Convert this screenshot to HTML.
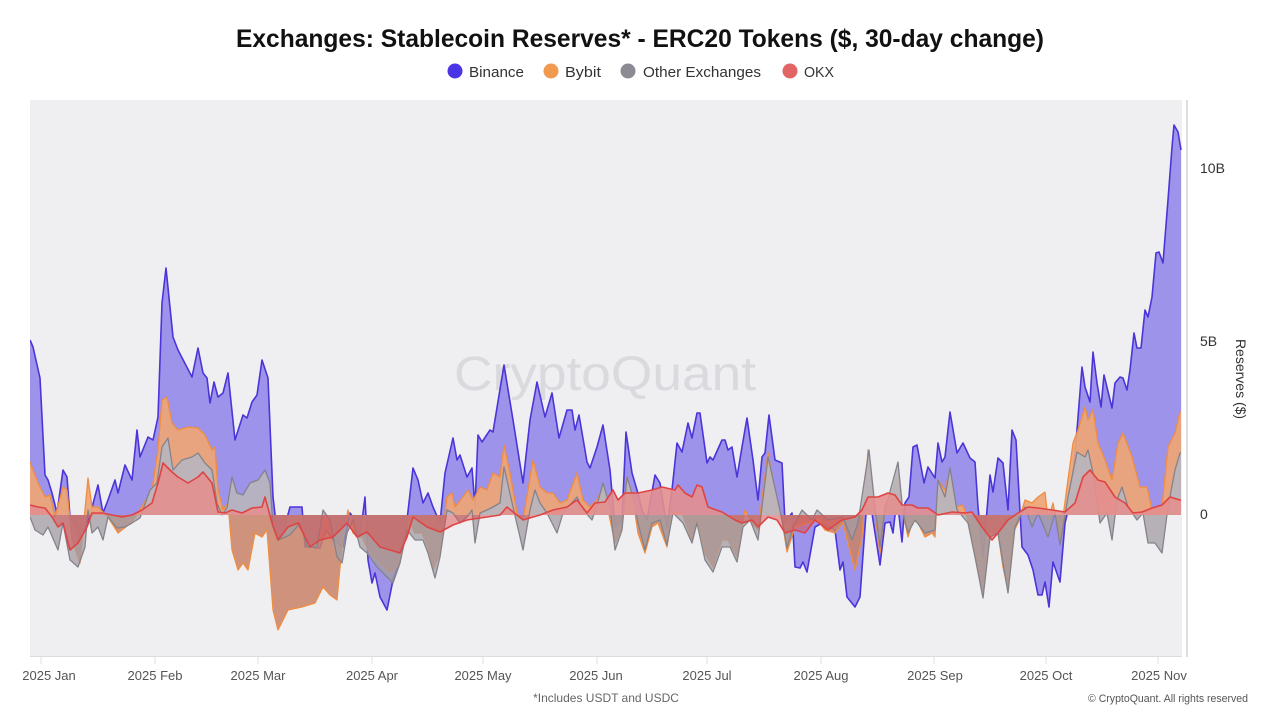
<!DOCTYPE html>
<html>
<head>
<meta charset="utf-8">
<style>
html,body{margin:0;padding:0;background:#fff;}
svg{display:block;}
text{font-family:"Liberation Sans",Arial,sans-serif;}
</style>
</head>
<body>
<svg width="1280" height="720" viewBox="0 0 1280 720" xmlns="http://www.w3.org/2000/svg">
<defs>
<clipPath id="pos"><rect x="0" y="0" width="1280" height="515"/></clipPath>
<clipPath id="neg"><rect x="0" y="515" width="1280" height="205"/></clipPath>
<clipPath id="plot"><rect x="30" y="100" width="1152" height="556"/></clipPath>
<polygon id="bnF" points="30,515 30,340 33,347 40,378 45,475 48,480 52,493 57,513 63,470 67,477 70,517 75,525 80,540 85,530 90,515 98,485 103,513 108,500 115,480 118,493 125,465 132,480 137,430 140,457 148,437 153,440 158,417 162,303 166,268 173,337 178,350 192,377 198,348 203,373 207,378 210,403 214,382 218,397 223,393 228,373 235,440 243,415 247,418 252,402 257,395 262,360 268,378 273,497 278,540 283,533 290,507 297,507 302,507 305,547 310,545 315,548 320,548 326,530 333,540 343,547 350,513 355,520 360,537 365,497 368,560 372,583 375,573 380,597 387,610 393,580 400,560 407,520 413,468 418,480 423,503 428,493 433,507 440,523 445,473 453,438 457,460 460,455 467,477 472,468 475,507 478,435 482,442 490,430 493,432 504,365 513,420 523,483 530,420 537,382 545,417 552,393 559,438 567,410 572,410 575,430 579,415 587,462 590,468 597,447 603,425 610,470 615,527 622,520 626,432 632,473 637,490 642,510 647,520 655,475 660,483 667,528 672,490 677,443 682,452 688,423 692,438 697,413 700,413 707,463 710,457 713,460 722,440 725,440 728,450 732,447 737,477 742,447 747,418 753,460 758,500 762,457 765,453 769,415 775,460 782,463 785,522 792,513 795,567 800,568 803,562 807,572 815,527 822,523 828,527 835,530 840,570 843,562 847,597 855,607 860,597 865,527 868,487 873,520 880,565 885,523 890,522 893,533 897,497 902,542 905,503 909,497 913,447 917,445 924,483 928,467 935,478 938,443 942,462 945,457 950,412 957,453 963,443 970,458 975,462 978,507 983,557 990,475 993,492 998,458 1003,463 1008,510 1012,430 1016,440 1022,547 1028,555 1033,570 1038,595 1042,595 1045,582 1049,607 1053,562 1060,582 1065,523 1070,503 1077,430 1082,367 1085,387 1090,402 1093,352 1097,383 1101,407 1104,375 1112,408 1115,383 1120,377 1123,378 1127,390 1130,370 1134,333 1137,348 1141,348 1145,310 1148,317 1152,297 1156,253 1159,252 1163,263 1168,200 1172,147 1174,125 1178,132 1181,150 1181,515"/>
<polygon id="byF" points="30,515 30,462 38,483 45,497 50,495 55,517 63,487 67,490 72,540 80,563 88,478 92,507 98,507 108,517 118,533 132,522 138,513 152,490 158,450 162,400 167,397 172,423 178,430 188,427 198,428 205,435 212,450 215,447 218,490 223,510 228,503 232,550 238,570 243,563 248,570 255,533 262,537 267,530 273,610 278,630 288,610 302,607 315,603 323,587 330,595 337,600 340,567 343,540 348,510 353,533 362,537 368,550 380,563 390,573 397,567 403,547 410,523 415,533 422,533 428,547 433,570 440,553 447,497 452,493 455,507 463,497 468,490 473,500 480,487 487,490 493,473 500,477 504,445 510,473 517,513 523,520 533,460 540,487 547,493 553,493 560,503 567,500 577,473 583,500 590,507 597,500 603,487 608,510 615,543 622,527 627,477 632,493 638,533 645,553 652,527 658,523 667,547 672,513 682,513 692,540 698,520 705,553 713,567 722,540 728,540 737,557 742,527 745,510 752,523 758,530 768,453 777,500 782,520 787,552 795,527 808,523 818,520 825,530 835,533 843,523 848,543 855,570 862,537 868,450 875,513 880,553 885,505 892,493 898,477 903,513 908,537 913,520 918,523 925,537 932,533 935,537 938,480 945,490 950,470 955,507 963,505 968,520 975,553 983,597 990,533 998,533 1003,567 1008,590 1013,533 1018,523 1025,500 1032,503 1038,497 1045,492 1048,520 1053,503 1060,540 1067,487 1073,443 1078,430 1085,407 1088,420 1093,410 1098,443 1105,460 1112,480 1118,443 1123,433 1132,457 1140,487 1147,487 1152,510 1162,507 1168,447 1175,433 1180,412 1181,412 1181,515"/>
<polygon id="otF" points="30,515 30,517 35,530 43,535 48,527 58,550 63,523 70,560 78,567 85,547 88,510 92,533 98,527 103,540 108,517 117,528 125,527 132,523 140,518 150,490 157,483 162,447 168,438 173,470 182,460 192,457 198,453 205,463 212,470 217,503 222,515 227,508 232,477 237,493 243,495 250,483 258,480 265,470 270,483 273,527 278,540 290,535 300,523 307,547 317,547 323,510 330,520 337,557 342,563 347,533 353,520 360,547 367,553 377,567 387,577 393,583 400,563 407,530 415,540 423,540 428,553 435,578 440,557 447,510 453,513 460,523 467,517 472,510 475,543 480,513 487,510 493,507 500,503 504,467 513,507 523,550 530,510 535,490 540,503 547,513 557,533 563,513 577,497 583,510 592,520 597,505 603,483 610,507 615,550 622,530 627,477 633,497 638,523 645,550 652,523 660,520 667,545 673,513 683,523 692,543 697,523 705,560 713,572 722,547 730,547 737,562 743,527 750,520 758,540 768,457 777,497 782,520 787,548 793,527 802,510 812,520 817,510 828,520 843,517 852,540 858,523 869,450 875,507 880,547 885,510 898,462 903,513 908,533 915,520 925,533 935,530 938,480 945,497 950,468 957,510 968,523 975,557 983,598 990,537 998,533 1008,593 1015,527 1025,507 1032,527 1038,513 1048,537 1055,513 1060,545 1068,497 1077,452 1085,457 1088,450 1093,473 1100,523 1107,513 1112,540 1117,500 1122,487 1128,507 1137,520 1143,513 1148,543 1155,543 1162,553 1168,507 1175,470 1180,453 1181,453 1181,515"/>
<polygon id="okF" points="30,515 30,505 38,507 45,508 52,517 58,527 63,523 70,550 78,543 87,527 92,513 102,513 112,515 122,517 132,515 142,510 152,503 158,483 163,463 172,472 178,477 188,483 198,477 203,472 212,483 218,512 225,513 232,510 242,513 252,508 262,507 265,497 272,523 278,540 288,527 298,523 310,547 320,540 333,537 347,523 357,537 367,532 380,547 400,553 407,537 413,517 427,527 440,532 453,525 467,520 487,517 500,515 507,507 523,520 540,515 553,510 567,507 577,500 587,513 595,503 605,502 613,490 618,500 625,493 638,493 652,490 662,487 675,490 678,485 685,493 692,497 697,485 702,487 708,507 722,512 735,520 742,523 752,520 758,527 768,517 777,520 785,533 795,530 805,533 815,520 828,530 842,520 855,517 862,510 868,497 878,497 888,493 895,495 902,505 912,505 918,508 928,508 938,515 952,512 965,513 972,512 982,527 992,540 998,533 1008,520 1018,513 1028,507 1038,508 1052,510 1065,512 1075,503 1083,477 1090,470 1098,480 1105,482 1115,497 1125,503 1133,513 1142,512 1152,508 1162,505 1170,497 1180,500 1181,500 1181,515"/>
</defs>

<!-- Title -->
<text x="640" y="47" text-anchor="middle" font-size="25" font-weight="bold" fill="#111" textLength="808" lengthAdjust="spacingAndGlyphs">Exchanges: Stablecoin Reserves* - ERC20 Tokens ($, 30-day change)</text>

<!-- Legend -->
<circle cx="455" cy="71" r="7.5" fill="#4a36e6"/>
<text x="469" y="77" font-size="15" fill="#333" textLength="55" lengthAdjust="spacingAndGlyphs">Binance</text>
<circle cx="551" cy="71" r="7.5" fill="#f0994f"/>
<text x="565" y="77" font-size="15" fill="#333" textLength="36" lengthAdjust="spacingAndGlyphs">Bybit</text>
<circle cx="628" cy="71" r="7.5" fill="#8c8b94"/>
<text x="643" y="77" font-size="15" fill="#333" textLength="118" lengthAdjust="spacingAndGlyphs">Other Exchanges</text>
<circle cx="790" cy="71" r="7.5" fill="#e26464"/>
<text x="804" y="77" font-size="15" fill="#333" textLength="30" lengthAdjust="spacingAndGlyphs">OKX</text>

<!-- Plot background -->
<rect x="30" y="100" width="1152" height="556" fill="#efeff2"/>

<!-- Watermark -->
<text x="605" y="390" text-anchor="middle" font-size="48" fill="#d9d9de" textLength="302" lengthAdjust="spacingAndGlyphs">CryptoQuant</text>

<g clip-path="url(#plot)">
<!-- Binance -->
<use href="#bnF" fill="rgba(75,55,225,0.5)"/>
<polyline fill="none" stroke="#4b35d8" stroke-width="1.6" stroke-linejoin="round" points="30,340 33,347 40,378 45,475 48,480 52,493 57,513 63,470 67,477 70,517 75,525 80,540 85,530 90,515 98,485 103,513 108,500 115,480 118,493 125,465 132,480 137,430 140,457 148,437 153,440 158,417 162,303 166,268 173,337 178,350 192,377 198,348 203,373 207,378 210,403 214,382 218,397 223,393 228,373 235,440 243,415 247,418 252,402 257,395 262,360 268,378 273,497 278,540 283,533 290,507 297,507 302,507 305,547 310,545 315,548 320,548 326,530 333,540 343,547 350,513 355,520 360,537 365,497 368,560 372,583 375,573 380,597 387,610 393,580 400,560 407,520 413,468 418,480 423,503 428,493 433,507 440,523 445,473 453,438 457,460 460,455 467,477 472,468 475,507 478,435 482,442 490,430 493,432 504,365 513,420 523,483 530,420 537,382 545,417 552,393 559,438 567,410 572,410 575,430 579,415 587,462 590,468 597,447 603,425 610,470 615,527 622,520 626,432 632,473 637,490 642,510 647,520 655,475 660,483 667,528 672,490 677,443 682,452 688,423 692,438 697,413 700,413 707,463 710,457 713,460 722,440 725,440 728,450 732,447 737,477 742,447 747,418 753,460 758,500 762,457 765,453 769,415 775,460 782,463 785,522 792,513 795,567 800,568 803,562 807,572 815,527 822,523 828,527 835,530 840,570 843,562 847,597 855,607 860,597 865,527 868,487 873,520 880,565 885,523 890,522 893,533 897,497 902,542 905,503 909,497 913,447 917,445 924,483 928,467 935,478 938,443 942,462 945,457 950,412 957,453 963,443 970,458 975,462 978,507 983,557 990,475 993,492 998,458 1003,463 1008,510 1012,430 1016,440 1022,547 1028,555 1033,570 1038,595 1042,595 1045,582 1049,607 1053,562 1060,582 1065,523 1070,503 1077,430 1082,367 1085,387 1090,402 1093,352 1097,383 1101,407 1104,375 1112,408 1115,383 1120,377 1123,378 1127,390 1130,370 1134,333 1137,348 1141,348 1145,310 1148,317 1152,297 1156,253 1159,252 1163,263 1168,200 1172,147 1174,125 1178,132 1181,150"/>

<!-- Bybit -->
<use href="#byF" fill="#eda676" fill-opacity="0.93" clip-path="url(#pos)"/>
<use href="#byF" fill="#c98268" fill-opacity="0.85" clip-path="url(#neg)"/>
<polyline fill="none" stroke="#f08d40" stroke-width="1.3" stroke-linejoin="round" points="30,462 38,483 45,497 50,495 55,517 63,487 67,490 72,540 80,563 88,478 92,507 98,507 108,517 118,533 132,522 138,513 152,490 158,450 162,400 167,397 172,423 178,430 188,427 198,428 205,435 212,450 215,447 218,490 223,510 228,503 232,550 238,570 243,563 248,570 255,533 262,537 267,530 273,610 278,630 288,610 302,607 315,603 323,587 330,595 337,600 340,567 343,540 348,510 353,533 362,537 368,550 380,563 390,573 397,567 403,547 410,523 415,533 422,533 428,547 433,570 440,553 447,497 452,493 455,507 463,497 468,490 473,500 480,487 487,490 493,473 500,477 504,445 510,473 517,513 523,520 533,460 540,487 547,493 553,493 560,503 567,500 577,473 583,500 590,507 597,500 603,487 608,510 615,543 622,527 627,477 632,493 638,533 645,553 652,527 658,523 667,547 672,513 682,513 692,540 698,520 705,553 713,567 722,540 728,540 737,557 742,527 745,510 752,523 758,530 768,453 777,500 782,520 787,552 795,527 808,523 818,520 825,530 835,533 843,523 848,543 855,570 862,537 868,450 875,513 880,553 885,505 892,493 898,477 903,513 908,537 913,520 918,523 925,537 932,533 935,537 938,480 945,490 950,470 955,507 963,505 968,520 975,553 983,597 990,533 998,533 1003,567 1008,590 1013,533 1018,523 1025,500 1032,503 1038,497 1045,492 1048,520 1053,503 1060,540 1067,487 1073,443 1078,430 1085,407 1088,420 1093,410 1098,443 1105,460 1112,480 1118,443 1123,433 1132,457 1140,487 1147,487 1152,510 1162,507 1168,447 1175,433 1180,412 1181,412"/>

<!-- Other Exchanges -->
<use href="#otF" fill="#b8b5bd" fill-opacity="0.93" clip-path="url(#pos)"/>
<use href="#otF" fill="#a39ca3" fill-opacity="0.75" clip-path="url(#neg)"/>
<polyline fill="none" stroke="#84838b" stroke-width="1.3" stroke-linejoin="round" points="30,517 35,530 43,535 48,527 58,550 63,523 70,560 78,567 85,547 88,510 92,533 98,527 103,540 108,517 117,528 125,527 132,523 140,518 150,490 157,483 162,447 168,438 173,470 182,460 192,457 198,453 205,463 212,470 217,503 222,515 227,508 232,477 237,493 243,495 250,483 258,480 265,470 270,483 273,527 278,540 290,535 300,523 307,547 317,547 323,510 330,520 337,557 342,563 347,533 353,520 360,547 367,553 377,567 387,577 393,583 400,563 407,530 415,540 423,540 428,553 435,578 440,557 447,510 453,513 460,523 467,517 472,510 475,543 480,513 487,510 493,507 500,503 504,467 513,507 523,550 530,510 535,490 540,503 547,513 557,533 563,513 577,497 583,510 592,520 597,505 603,483 610,507 615,550 622,530 627,477 633,497 638,523 645,550 652,523 660,520 667,545 673,513 683,523 692,543 697,523 705,560 713,572 722,547 730,547 737,562 743,527 750,520 758,540 768,457 777,497 782,520 787,548 793,527 802,510 812,520 817,510 828,520 843,517 852,540 858,523 869,450 875,507 880,547 885,510 898,462 903,513 908,533 915,520 925,533 935,530 938,480 945,497 950,468 957,510 968,523 975,557 983,598 990,537 998,533 1008,593 1015,527 1025,507 1032,527 1038,513 1048,537 1055,513 1060,545 1068,497 1077,452 1085,457 1088,450 1093,473 1100,523 1107,513 1112,540 1117,500 1122,487 1128,507 1137,520 1143,513 1148,543 1155,543 1162,553 1168,507 1175,470 1180,453 1181,453"/>

<!-- OKX -->
<use href="#okF" fill="#e38f8f" fill-opacity="0.9" clip-path="url(#pos)"/>
<use href="#okF" fill="rgb(220,80,80)" fill-opacity="0.5" clip-path="url(#neg)"/>
<polyline fill="none" stroke="#df4444" stroke-width="1.6" stroke-linejoin="round" points="30,505 38,507 45,508 52,517 58,527 63,523 70,550 78,543 87,527 92,513 102,513 112,515 122,517 132,515 142,510 152,503 158,483 163,463 172,472 178,477 188,483 198,477 203,472 212,483 218,512 225,513 232,510 242,513 252,508 262,507 265,497 272,523 278,540 288,527 298,523 310,547 320,540 333,537 347,523 357,537 367,532 380,547 400,553 407,537 413,517 427,527 440,532 453,525 467,520 487,517 500,515 507,507 523,520 540,515 553,510 567,507 577,500 587,513 595,503 605,502 613,490 618,500 625,493 638,493 652,490 662,487 675,490 678,485 685,493 692,497 697,485 702,487 708,507 722,512 735,520 742,523 752,520 758,527 768,517 777,520 785,533 795,530 805,533 815,520 828,530 842,520 855,517 862,510 868,497 878,497 888,493 895,495 902,505 912,505 918,508 928,508 938,515 952,512 965,513 972,512 982,527 992,540 998,533 1008,520 1018,513 1028,507 1038,508 1052,510 1065,512 1075,503 1083,477 1090,470 1098,480 1105,482 1115,497 1125,503 1133,513 1142,512 1152,508 1162,505 1170,497 1180,500 1181,500"/>
</g>

<!-- Axes -->
<line x1="30" y1="656.5" x2="1182" y2="656.5" stroke="#dcdcdf" stroke-width="1"/>
<line x1="1187" y1="100" x2="1187" y2="657" stroke="#d4d4d8" stroke-width="1.5"/>
<g stroke="#e0e0e3" stroke-width="1">
<line x1="41" y1="657" x2="41" y2="664"/>
<line x1="155" y1="657" x2="155" y2="664"/>
<line x1="258" y1="657" x2="258" y2="664"/>
<line x1="372" y1="657" x2="372" y2="664"/>
<line x1="483" y1="657" x2="483" y2="664"/>
<line x1="597" y1="657" x2="597" y2="664"/>
<line x1="707" y1="657" x2="707" y2="664"/>
<line x1="821" y1="657" x2="821" y2="664"/>
<line x1="934" y1="657" x2="934" y2="664"/>
<line x1="1046" y1="657" x2="1046" y2="664"/>
<line x1="1158" y1="657" x2="1158" y2="664"/>
</g>
<g font-size="13" fill="#555" text-anchor="middle">
<text x="49" y="680">2025 Jan</text>
<text x="155" y="680">2025 Feb</text>
<text x="258" y="680">2025 Mar</text>
<text x="372" y="680">2025 Apr</text>
<text x="483" y="680">2025 May</text>
<text x="596" y="680">2025 Jun</text>
<text x="707" y="680">2025 Jul</text>
<text x="821" y="680">2025 Aug</text>
<text x="935" y="680">2025 Sep</text>
<text x="1046" y="680">2025 Oct</text>
<text x="1159" y="680">2025 Nov</text>
</g>

<g font-size="14" fill="#333">
<text x="1200" y="173">10B</text>
<text x="1200" y="346">5B</text>
<text x="1200" y="519">0</text>
</g>
<text transform="translate(1236,379) rotate(90)" text-anchor="middle" font-size="14" fill="#333">Reserves ($)</text>

<text x="606" y="702" text-anchor="middle" font-size="12" fill="#666">*Includes USDT and USDC</text>
<text x="1248" y="702" text-anchor="end" font-size="11" fill="#555" textLength="160" lengthAdjust="spacingAndGlyphs">© CryptoQuant. All rights reserved</text>
</svg>
</body>
</html>
